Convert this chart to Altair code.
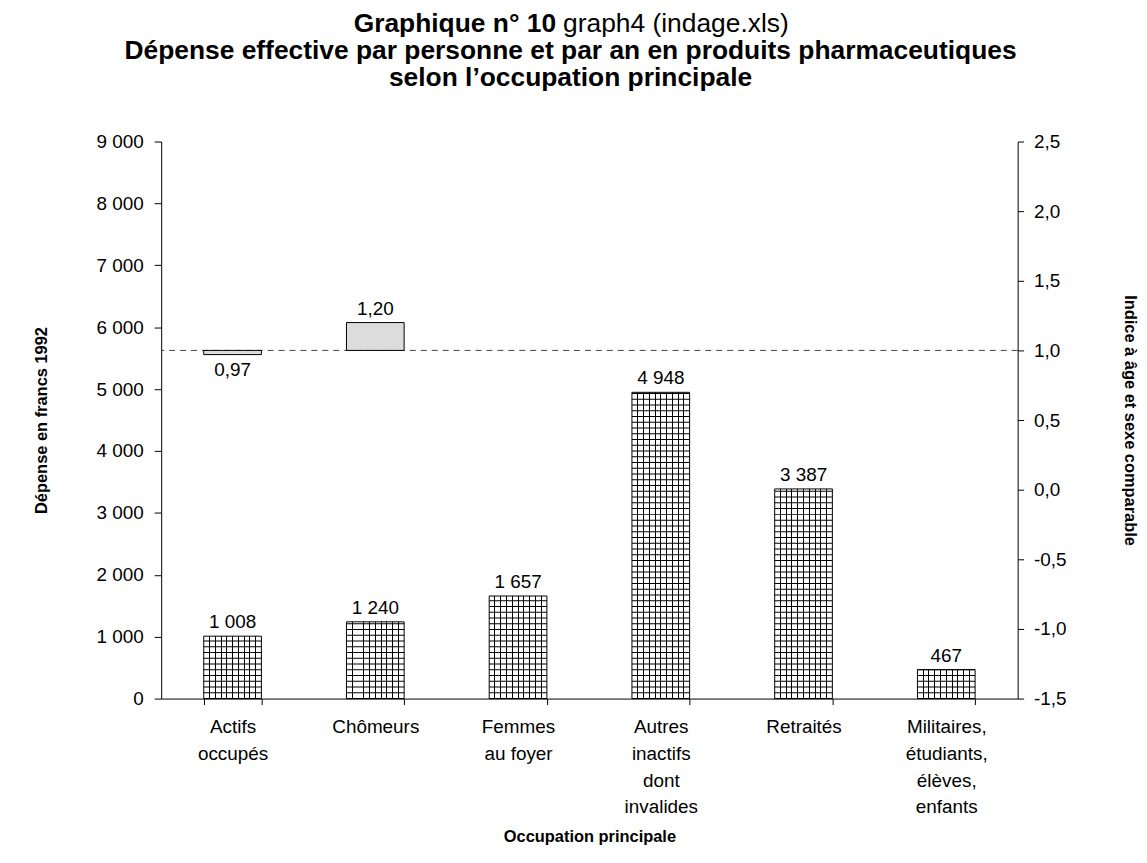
import altair as alt
import pandas as pd

# ---------------- data ----------------
categories = [
    "Actifs\noccupés",
    "Chômeurs",
    "Femmes\nau foyer",
    "Autres\ninactifs\ndont\ninvalides",
    "Retraités",
    "Militaires,\nétudiants,\nélèves,\nenfants",
]
depense = [1008, 1240, 1657, 4948, 3387, 467]

index_categories = ["Actifs\noccupés", "Chômeurs"]
index_values = [0.97, 1.20]
reference_index = [1.0]

title_bold_1 = "Graphique n° 10"
title_normal_1 = "graph4 (indage.xls)"
title_line_2 = "Dépense effective par personne et par an en produits pharmaceutiques"
title_line_3 = "selon l’occupation principale"

left_ticks = [0, 1000, 2000, 3000, 4000, 5000, 6000, 7000, 8000, 9000]
right_ticks = [-1.5, -1.0, -0.5, 0.0, 0.5, 1.0, 1.5, 2.0, 2.5]

# ---------------- tables ----------------
df = pd.DataFrame({"cat": categories, "depense": depense})
idx = pd.DataFrame({"cat": index_categories, "indice": index_values,
                    "ref": reference_index * len(index_categories)})
ref_df = pd.DataFrame({"ref": reference_index})

FONT = "Liberation Sans"
BAR_W = 58
N_CELLS = 10
TITLE_SIZE = 26.5

x_scale = alt.Scale(domain=categories, paddingInner=0.596, paddingOuter=0.298)
x_axis = alt.Axis(
    title="Occupation principale",
    labelExpr="split(datum.label, '\\n')",
    labelAngle=0,
    labelFontSize=19,
    labelLineHeight=27,
    labelPadding=13,
    labelColor="black",
    labelFont=FONT,
    tickBand="extent",
    tickSize=6,
    tickColor="black",
    domainColor="black",
    titleFont=FONT,
    titleFontSize=16.5,
    titleFontWeight="bold",
    titleColor="black",
    titlePadding=12,
)
X = alt.X("cat:N", sort=categories, scale=x_scale, axis=x_axis)

left_scale = alt.Scale(domain=[0, 9000], nice=False, zero=True)
left_axis = alt.Axis(
    title="Dépense en francs 1992",
    values=left_ticks,
    labelExpr="replace(format(datum.value, ','), ',', ' ')",
    grid=False,
    labelFontSize=19,
    labelFont=FONT,
    labelColor="black",
    labelPadding=11,
    tickSize=7,
    tickColor="black",
    domainColor="black",
    titleFont=FONT,
    titleFontSize=16.5,
    titleFontWeight="bold",
    titleColor="black",
    titlePadding=47,
)

right_scale = alt.Scale(domain=[-1.5, 2.5], nice=False, zero=False)
right_axis = alt.Axis(
    orient="right",
    title="Indice à âge et sexe comparable",
    values=right_ticks,
    labelExpr="replace(replace(format(datum.value, '.1f'), '.', ','), '−', '-')",
    grid=False,
    labelFontSize=19,
    labelFont=FONT,
    labelColor="black",
    labelPadding=10,
    tickSize=6,
    tickColor="black",
    domainColor="black",
    titleFont=FONT,
    titleFontSize=16.5,
    titleFontWeight="bold",
    titleColor="black",
    titlePadding=56,
)

# vertical hatch lines via a striped gradient
stops = [alt.GradientStop(offset=0, color="white")]
half = 0.5 / BAR_W
for k in range(1, N_CELLS):
    c = k / N_CELLS
    stops += [
        alt.GradientStop(offset=c - half, color="white"),
        alt.GradientStop(offset=c - half, color="black"),
        alt.GradientStop(offset=c + half, color="black"),
        alt.GradientStop(offset=c + half, color="white"),
    ]
stops.append(alt.GradientStop(offset=1, color="white"))
hatch_fill = alt.LinearGradient(gradient="linear", stops=stops, x1=0, x2=1, y1=0, y2=0)

base = alt.Chart(df)

bars = base.mark_bar(fill=hatch_fill, stroke="black", strokeWidth=1).encode(
    x=X,
    y=alt.Y("depense:Q", scale=left_scale, axis=left_axis),
)

# horizontal hatch lines
hlines = base.transform_calculate(
    lines="sequence(0, datum.depense, 93)"
).transform_flatten(["lines"]).mark_tick(
    size=BAR_W, thickness=1, color="black", opacity=1
).encode(
    x=X,
    y=alt.Y("lines:Q", scale=left_scale, axis=left_axis),
)

labels = base.transform_calculate(
    txt="replace(format(datum.depense, ','), ',', ' ')"
).mark_text(baseline="bottom", dy=-4, fontSize=19, font=FONT, color="black").encode(
    x=X,
    y=alt.Y("depense:Q", scale=left_scale, axis=left_axis),
    text="txt:N",
)

# titles
t1a = alt.Chart(pd.DataFrame({"t": [title_bold_1]})).mark_text(
    align="right", baseline="alphabetic", fontSize=TITLE_SIZE, fontWeight="bold", font=FONT, color="black"
).encode(x=alt.value(397), y=alt.value(-110), text="t:N")
t1b = alt.Chart(pd.DataFrame({"t": [title_normal_1]})).mark_text(
    align="left", baseline="alphabetic", fontSize=TITLE_SIZE, font=FONT, color="black"
).encode(x=alt.value(404), y=alt.value(-110), text="t:N")
t2 = alt.Chart(pd.DataFrame({"t": [title_line_2]})).mark_text(
    align="center", baseline="alphabetic", fontSize=TITLE_SIZE, fontWeight="bold", font=FONT, color="black"
).encode(x=alt.value(411.5), y=alt.value(-83), text="t:N")
t3 = alt.Chart(pd.DataFrame({"t": [title_line_3]})).mark_text(
    align="center", baseline="alphabetic", fontSize=TITLE_SIZE, fontWeight="bold", font=FONT, color="black"
).encode(x=alt.value(411.5), y=alt.value(-56), text="t:N")

left = alt.layer(bars, hlines, labels, t1a, t1b, t2, t3)

# right-axis series
Y_R = alt.Y("indice:Q", scale=right_scale, axis=right_axis)
idx_base = alt.Chart(idx)
idx_bars = idx_base.mark_bar(fill="#dcdcdc", stroke="black", strokeWidth=1).encode(
    x=X, y=Y_R, y2="ref:Q"
)
idx_lab_low = idx_base.transform_filter("datum.indice < datum.ref").transform_calculate(
    txt="replace(format(datum.indice, '.2f'), '.', ',')"
).mark_text(baseline="top", dy=7, fontSize=19, font=FONT, color="black").encode(
    x=X, y=Y_R, text="txt:N"
)
idx_lab_high = idx_base.transform_filter("datum.indice >= datum.ref").transform_calculate(
    txt="replace(format(datum.indice, '.2f'), '.', ',')"
).mark_text(baseline="bottom", dy=-4, fontSize=19, font=FONT, color="black").encode(
    x=X, y=Y_R, text="txt:N"
)
ref_rule = alt.Chart(ref_df).mark_rule(strokeDash=[6, 5], color="#444", strokeWidth=1).encode(
    y=alt.Y("ref:Q", scale=right_scale, axis=right_axis)
)

right = alt.layer(ref_rule, idx_bars, idx_lab_low, idx_lab_high)

chart = alt.layer(left, right).resolve_scale(y="independent").properties(
    width=861,
    height=560,
    autosize=alt.AutoSizeParams(type="none"),
    padding={"left": 154, "top": 132, "right": 122, "bottom": 150},
    background="white",
).configure_view(strokeWidth=0)

chart.save("out.html", embed_options={"renderer": "svg", "actions": False})
